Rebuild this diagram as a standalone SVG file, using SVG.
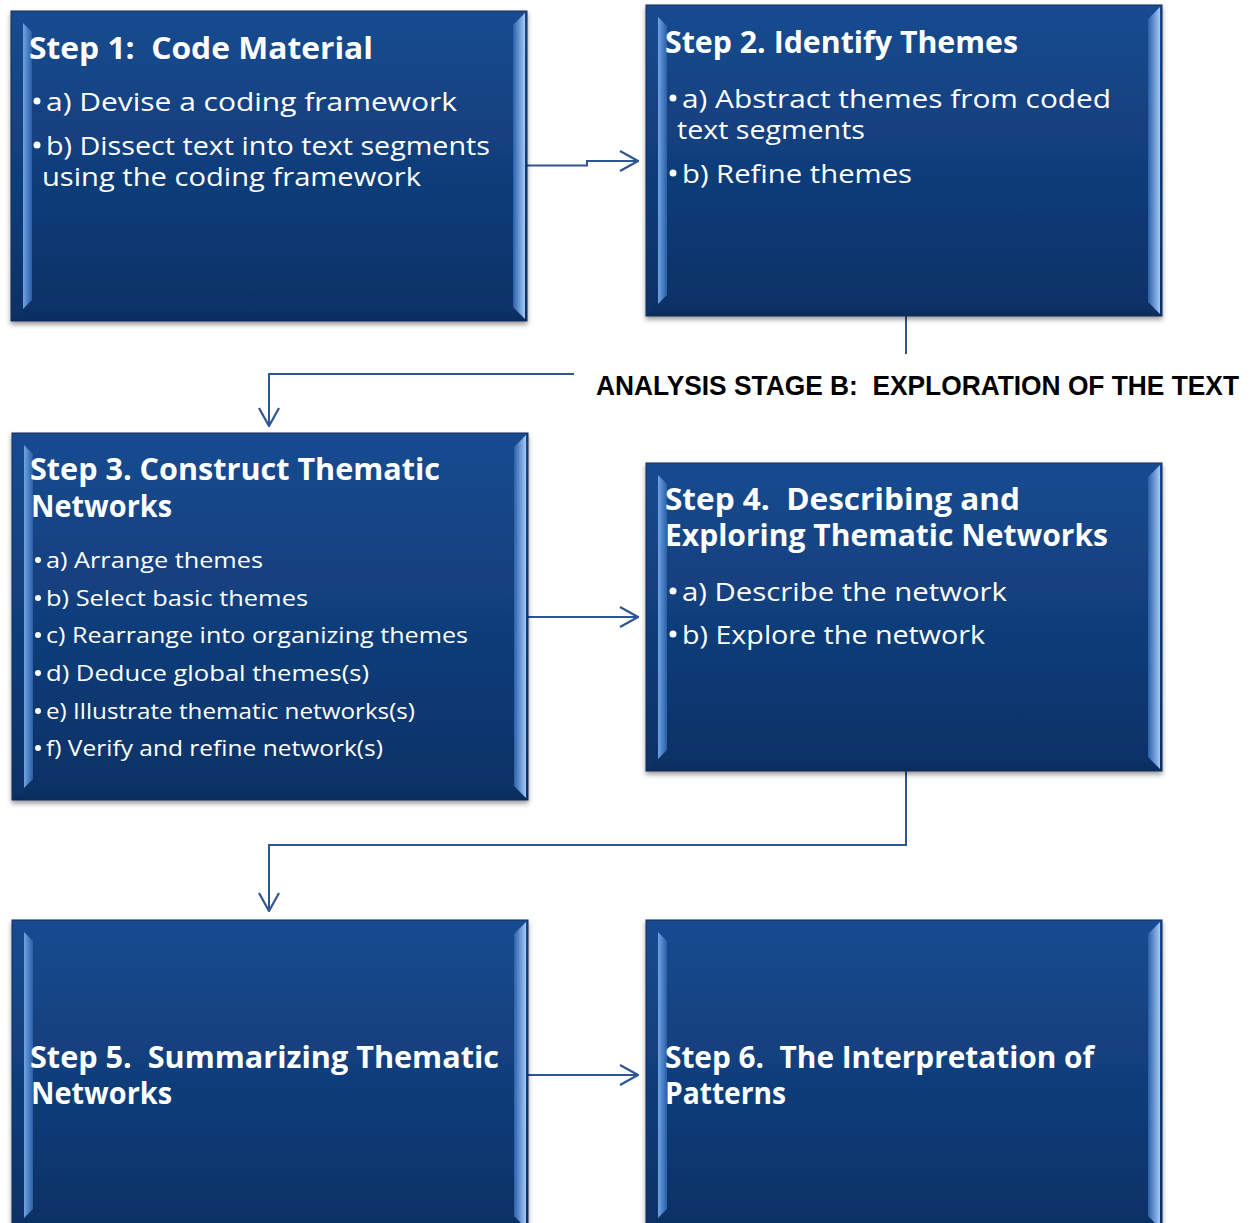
<svg xmlns="http://www.w3.org/2000/svg" width="1254" height="1223" viewBox="0 0 1254 1223">
  <defs>
    <linearGradient id="face" x1="0" y1="0" x2="0" y2="1">
      <stop offset="0" stop-color="#174b90"/>
      <stop offset="1" stop-color="#0b3166"/>
    </linearGradient>
    <linearGradient id="bevelL" x1="0" y1="0" x2="1" y2="0">
      <stop offset="0" stop-color="#6fa4e4"/>
      <stop offset="1" stop-color="#2a5ea6"/>
    </linearGradient>
    <linearGradient id="bevelR" x1="0" y1="0" x2="1" y2="0">
      <stop offset="0" stop-color="#2b61aa"/>
      <stop offset="1" stop-color="#a3c9f6"/>
    </linearGradient>
    <linearGradient id="bevelB" x1="0" y1="0" x2="0" y2="1">
      <stop offset="0" stop-color="#0c3468"/>
      <stop offset="1" stop-color="#0a2c5c"/>
    </linearGradient>
    <filter id="shadow" x="-5%" y="-5%" width="110%" height="115%">
      <feDropShadow dx="0" dy="3" stdDeviation="2.5" flood-color="#000" flood-opacity="0.4"/>
    </filter>
    <marker id="arrow" viewBox="0 0 20 22" refX="19" refY="11" markerWidth="20" markerHeight="22" markerUnits="userSpaceOnUse" orient="auto">
      <path d="M1,1 L19,11 L1,21" fill="none" stroke="#2e5594" stroke-width="2.2"/>
    </marker>
  </defs>
  <style>
    .box { fill: url(#face); stroke: #0e2d5a; stroke-width: 1; }
    .bl { fill: url(#bevelL); }
    .br { fill: url(#bevelR); }
    .bb { fill: url(#bevelB); }
    .title { font-family: "Open Sans", "Noto Sans", "DejaVu Sans", sans-serif; font-weight: 700; font-size: 30px; fill: #ffffff; white-space: pre; }
    .item { font-family: "Open Sans", "Noto Sans", "DejaVu Sans", sans-serif; font-weight: 400; font-size: 26px; fill: #ffffff; white-space: pre; }
    .small { font-size: 22px; }
    .dot { fill: #ffffff; }
    .label { font-family: "Liberation Sans", Arial, sans-serif; font-weight: 700; font-size: 28px; fill: #000000; white-space: pre; }
    .conn { fill: none; stroke: #2e5594; stroke-width: 2; }
  </style>

  <!-- connectors -->
  <g id="connectors">
    <path class="conn" d="M527,165.5 H587 V161 H638" marker-end="url(#arrow)"/>
    <path class="conn" d="M906,316 V354"/>
    <path class="conn" d="M574,374 H269 V426" marker-end="url(#arrow)"/>
    <path class="conn" d="M528,617 H638" marker-end="url(#arrow)"/>
    <path class="conn" d="M906,771 V845 H269 V911" marker-end="url(#arrow)"/>
    <path class="conn" d="M528,1075 H638" marker-end="url(#arrow)"/>
  </g>

  <!-- stage label -->
  <text id="stage-label" class="label" x="596" y="395" textLength="643" lengthAdjust="spacingAndGlyphs">ANALYSIS STAGE B:  EXPLORATION OF THE TEXT</text>

  <!-- Step 1 -->
  <g id="step1">
    <g filter="url(#shadow)"><rect class="box" x="11" y="11" width="516" height="310"/></g>
    <polygon class="bb" points="11,321 527,321 513,307 25,307"/>
    <polygon class="bl" points="23,23 32,32 32,300 23,309"/>
    <polygon class="br" points="513,25 525,13 525,319 513,307"/>
    <text class="title" x="29" y="59" textLength="344" lengthAdjust="spacingAndGlyphs">Step 1:  Code Material</text>
    <circle class="dot" cx="37" cy="101" r="3.5"/>
    <text class="item" x="46" y="111" textLength="411" lengthAdjust="spacingAndGlyphs">a) Devise a coding framework</text>
    <circle class="dot" cx="37" cy="145" r="3.5"/>
    <text class="item" x="46" y="155" textLength="444" lengthAdjust="spacingAndGlyphs">b) Dissect text into text segments</text>
    <text class="item" x="42" y="186" textLength="379" lengthAdjust="spacingAndGlyphs">using the coding framework</text>
  </g>

  <!-- Step 2 -->
  <g id="step2">
    <g filter="url(#shadow)"><rect class="box" x="646" y="5" width="516" height="311"/></g>
    <polygon class="bb" points="646,316 1162,316 1148,302 660,302"/>
    <polygon class="bl" points="658,17 667,26 667,295 658,304"/>
    <polygon class="br" points="1148,19 1160,7 1160,314 1148,302"/>
    <text class="title" x="665" y="53" textLength="353" lengthAdjust="spacingAndGlyphs">Step 2. Identify Themes</text>
    <circle class="dot" cx="673" cy="98" r="3.5"/>
    <text class="item" x="682" y="108" textLength="429" lengthAdjust="spacingAndGlyphs">a) Abstract themes from coded</text>
    <text class="item" x="677" y="139" textLength="188" lengthAdjust="spacingAndGlyphs">text segments</text>
    <circle class="dot" cx="673" cy="173" r="3.5"/>
    <text class="item" x="682" y="183" textLength="230" lengthAdjust="spacingAndGlyphs">b) Refine themes</text>
  </g>

  <!-- Step 3 -->
  <g id="step3">
    <g filter="url(#shadow)"><rect class="box" x="12" y="433" width="516" height="367"/></g>
    <polygon class="bb" points="12,800 528,800 514,786 26,786"/>
    <polygon class="bl" points="24,445 33,454 33,779 24,788"/>
    <polygon class="br" points="514,447 526,435 526,798 514,786"/>
    <text class="title" x="30" y="480" textLength="410" lengthAdjust="spacingAndGlyphs">Step 3. Construct Thematic</text>
    <text class="title" x="31" y="517" textLength="141" lengthAdjust="spacingAndGlyphs">Networks</text>
    <circle class="dot" cx="38" cy="560" r="3"/>
    <text class="item small" x="46" y="568" textLength="217" lengthAdjust="spacingAndGlyphs">a) Arrange themes</text>
    <circle class="dot" cx="38" cy="598" r="3"/>
    <text class="item small" x="46" y="606" textLength="262" lengthAdjust="spacingAndGlyphs">b) Select basic themes</text>
    <circle class="dot" cx="38" cy="635" r="3"/>
    <text class="item small" x="46" y="643" textLength="422" lengthAdjust="spacingAndGlyphs">c) Rearrange into organizing themes</text>
    <circle class="dot" cx="38" cy="673" r="3"/>
    <text class="item small" x="46" y="681" textLength="323" lengthAdjust="spacingAndGlyphs">d) Deduce global themes(s)</text>
    <circle class="dot" cx="38" cy="711" r="3"/>
    <text class="item small" x="46" y="719" textLength="369" lengthAdjust="spacingAndGlyphs">e) Illustrate thematic networks(s)</text>
    <circle class="dot" cx="38" cy="748" r="3"/>
    <text class="item small" x="46" y="756" textLength="337" lengthAdjust="spacingAndGlyphs">f) Verify and refine network(s)</text>
  </g>

  <!-- Step 4 -->
  <g id="step4">
    <g filter="url(#shadow)"><rect class="box" x="646" y="463" width="516" height="308"/></g>
    <polygon class="bb" points="646,771 1162,771 1148,757 660,757"/>
    <polygon class="bl" points="658,475 667,484 667,750 658,759"/>
    <polygon class="br" points="1148,477 1160,465 1160,769 1148,757"/>
    <text class="title" x="665" y="510" textLength="355" lengthAdjust="spacingAndGlyphs">Step 4.  Describing and</text>
    <text class="title" x="665" y="546" textLength="443" lengthAdjust="spacingAndGlyphs">Exploring Thematic Networks</text>
    <circle class="dot" cx="673" cy="591" r="3.5"/>
    <text class="item" x="682" y="601" textLength="325" lengthAdjust="spacingAndGlyphs">a) Describe the network</text>
    <circle class="dot" cx="673" cy="634" r="3.5"/>
    <text class="item" x="682" y="644" textLength="303" lengthAdjust="spacingAndGlyphs">b) Explore the network</text>
  </g>

  <!-- Step 5 -->
  <g id="step5">
    <g filter="url(#shadow)"><rect class="box" x="12" y="920" width="516" height="310"/></g>
    <polygon class="bb" points="12,1230 528,1230 514,1216 26,1216"/>
    <polygon class="bl" points="24,932 33,941 33,1209 24,1218"/>
    <polygon class="br" points="514,934 526,922 526,1228 514,1216"/>
    <text class="title" x="30" y="1068" textLength="469" lengthAdjust="spacingAndGlyphs">Step 5.  Summarizing Thematic</text>
    <text class="title" x="31" y="1104" textLength="141" lengthAdjust="spacingAndGlyphs">Networks</text>
  </g>

  <!-- Step 6 -->
  <g id="step6">
    <g filter="url(#shadow)"><rect class="box" x="646" y="920" width="516" height="310"/></g>
    <polygon class="bb" points="646,1230 1162,1230 1148,1216 660,1216"/>
    <polygon class="bl" points="658,932 667,941 667,1209 658,1218"/>
    <polygon class="br" points="1148,934 1160,922 1160,1228 1148,1216"/>
    <text class="title" x="665" y="1068" textLength="429" lengthAdjust="spacingAndGlyphs">Step 6.  The Interpretation of</text>
    <text class="title" x="665" y="1104" textLength="121" lengthAdjust="spacingAndGlyphs">Patterns</text>
  </g>
</svg>
